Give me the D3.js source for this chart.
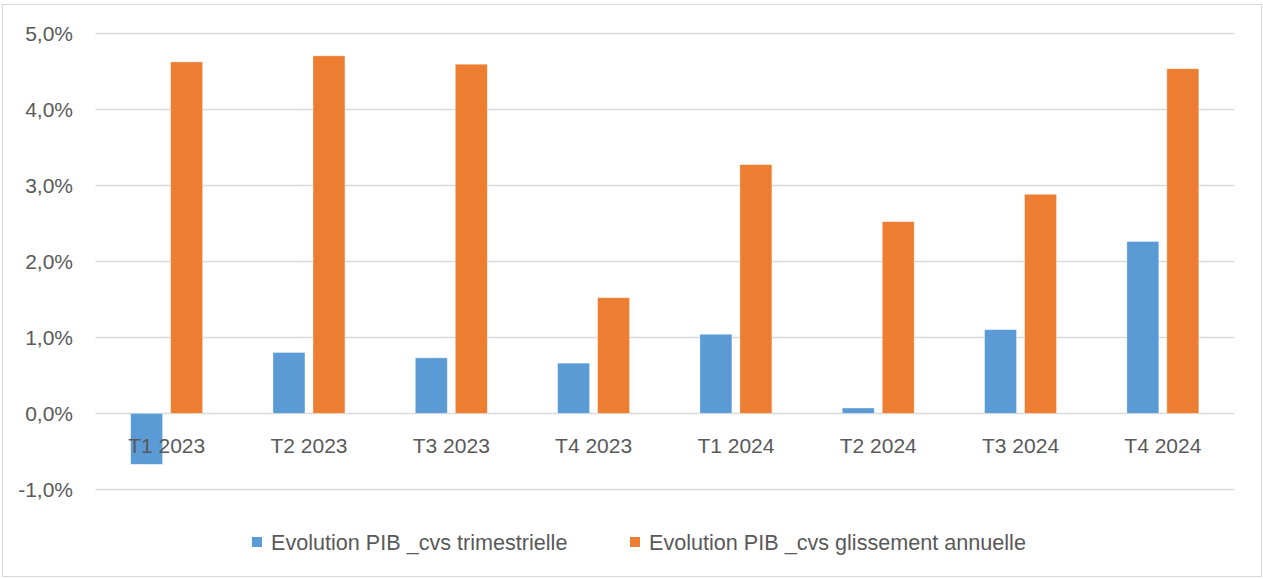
<html>
	<head>
		<meta content="text/html;charset=utf-8" http-equiv="Content-Type">
		<script src="https://d3js.org/d3.v7.min.js"></script>
		<style>
		body { margin: 0; background: #fff; }
		text { font-family: "Liberation Sans", Arial, sans-serif; fill: #595959; }
		</style>
	</head>
	<body>
		<svg id="chart"></svg>
		<script>

	var categories = ["T1 2023", "T2 2023", "T3 2023", "T4 2023", "T1 2024", "T2 2024", "T3 2024", "T4 2024"];
	var seriesNames = ["Evolution PIB _cvs trimestrielle", "Evolution PIB _cvs glissement annuelle"];
	var trimestrielle = [-0.67, 0.80, 0.73, 0.66, 1.04, 0.07, 1.10, 2.26];
	var glissement = [4.62, 4.70, 4.59, 1.52, 3.27, 2.52, 2.88, 4.53];
	var yTicks = [-1, 0, 1, 2, 3, 4, 5];
	var colors = ["#5b9bd5", "#ed7d31"];

	page();

	function page(){
		var svg = d3.select("#chart");
		svg.attr("width", 1263).attr("height", 579);

		// outer chart border
		svg.append("rect")
			.attr("x", 2.5).attr("y", 4.5)
			.attr("width", 1259).attr("height", 572)
			.attr("fill", "#fff")
			.attr("stroke", "#d9d9d9")
			.attr("stroke-width", 1);

		var x = d3.scaleBand().domain(categories).range([95.5, 1234]).padding(0);
		var y = d3.scaleLinear().domain([-1, 5]).range([489.4, 33]);
		var xs = d3.scaleBand().domain([0, 1]).range([0, 72]).paddingInner(0.2);

		// gridlines
		svg.append("g").selectAll("line")
			.data(yTicks)
			.join("line")
			.attr("x1", 95.5).attr("x2", 1234)
			.attr("y1", function(d){ return Math.round(y(d)) + 0.5; })
			.attr("y2", function(d){ return Math.round(y(d)) + 0.5; })
			.attr("stroke", "#d9d9d9")
			.attr("stroke-width", 1.5);

		// y tick labels
		svg.append("g").selectAll("text")
			.data(yTicks)
			.join("text")
			.attr("x", 73)
			.attr("y", function(d){ return y(d); })
			.attr("dy", "0.36em")
			.attr("text-anchor", "end")
			.style("font-size", "21px")
			.text(function(d){ return d.toFixed(1).replace(".", ",") + "%"; });

		var data = categories.map(function(c, i){
			return { cat: c, vals: [trimestrielle[i], glissement[i]] };
		});

		var groups = svg.append("g").selectAll("g")
			.data(data)
			.join("g")
			.attr("transform", function(d){ return "translate(" + (x(d.cat) + x.bandwidth() / 2 - 36) + ",0)"; });

		groups.selectAll("rect")
			.data(function(d){ return d.vals.map(function(v, k){ return { k: k, v: v }; }); })
			.join("rect")
			.attr("x", function(d){ return xs(d.k); })
			.attr("width", xs.bandwidth())
			.attr("y", function(d){ return Math.min(y(d.v), y(0)); })
			.attr("height", function(d){ return Math.abs(y(d.v) - y(0)); })
			.attr("fill", function(d){ return colors[d.k]; })
			.attr("stroke", "#fff")
			.attr("stroke-opacity", 0.5)
			.attr("stroke-width", 0.75);

		// category labels
		svg.append("g").selectAll("text")
			.data(categories)
			.join("text")
			.attr("x", function(d){ return x(d) + x.bandwidth() / 2; })
			.attr("y", 445)
			.attr("dy", "0.36em")
			.attr("text-anchor", "middle")
			.style("font-size", "21px")
			.text(function(d){ return d; });

		// legend
		var legendX = [252, 630];
		var legend = svg.append("g").selectAll("g")
			.data(seriesNames)
			.join("g")
			.attr("transform", function(d, i){ return "translate(" + legendX[i] + ",542)"; });
		legend.append("rect")
			.attr("x", 0).attr("y", -5)
			.attr("width", 10).attr("height", 10)
			.attr("fill", function(d, i){ return colors[i]; });
		legend.append("text")
			.attr("x", 19)
			.attr("y", 0)
			.attr("dy", "0.36em")
			.style("font-size", "21.6px")
			.text(function(d){ return d; });
	}

		</script>
	</body>
</html>
